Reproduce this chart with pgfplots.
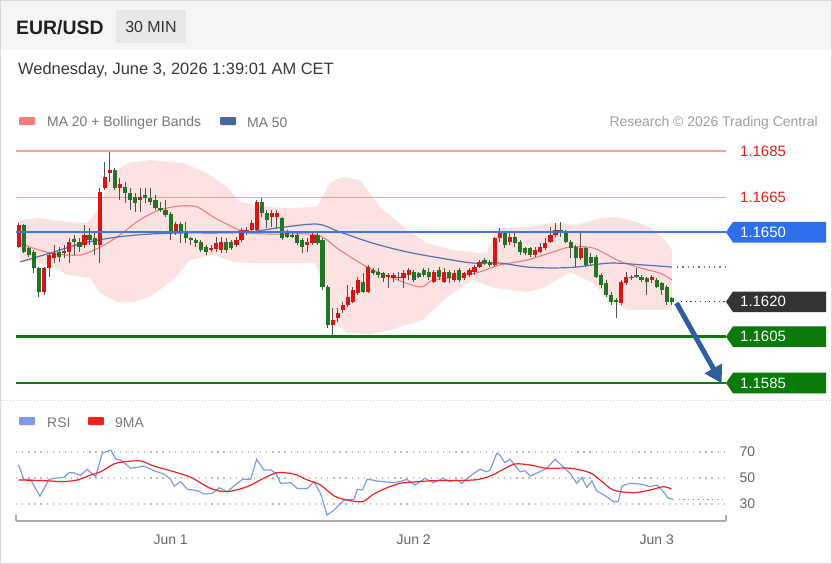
\documentclass[border=0pt]{standalone}
\usepackage{fontspec}
\setmainfont{Liberation Sans}
\usepackage{pgfplots}
\pgfplotsset{compat=1.18}
\usepackage{pgfplotstable}
\usetikzlibrary{arrows.meta}

\definecolor{upred}{HTML}{D81414}
\definecolor{dngreen}{HTML}{217526}
\definecolor{wickc}{HTML}{505050}
\definecolor{bbpink}{HTML}{FDE2E2}
\definecolor{ma20c}{HTML}{F27C7C}
\definecolor{ma50c}{HTML}{5272B0}
\definecolor{lvlred}{HTML}{F4A0A0}
\definecolor{txtred}{HTML}{EE1C1C}
\definecolor{lvlblue}{HTML}{3B76E8}
\definecolor{boxblue}{HTML}{2F6FEE}
\definecolor{boxdark}{HTML}{333333}
\definecolor{lvlgreen}{HTML}{0A7A0A}
\definecolor{arrowblue}{HTML}{2F5E9E}
\definecolor{rsiblue}{HTML}{7C9DE6}
\definecolor{marsi}{HTML}{EE2222}
\definecolor{gridgray}{HTML}{BBBBBB}
\definecolor{axisgray}{HTML}{AAAAAA}
\definecolor{labgray}{HTML}{666666}
\definecolor{leggray}{HTML}{777777}

\pgfplotstableread{
k O H L C
0 1.16438 1.16538 1.16431 1.16531
5 1.16244 1.16351 1.16229 1.16344
6 1.16344 1.16409 1.16308 1.16402
7 1.16388 1.16445 1.16366 1.16409
9 1.16409 1.16445 1.16388 1.16419
10 1.16416 1.16474 1.16366 1.16459
13 1.16445 1.16531 1.16431 1.16488
16 1.16445 1.16689 1.16366 1.16675
17 1.16689 1.16804 1.16682 1.16739
18 1.16754 1.16847 1.16718 1.16768
20 1.16692 1.16732 1.16639 1.16707
24 1.16639 1.16689 1.16588 1.16653
31 1.16502 1.16545 1.16488 1.16535
38 1.16423 1.16445 1.16416 1.16431
39 1.16426 1.16481 1.16416 1.16452
40 1.16423 1.16481 1.16409 1.16459
43 1.16445 1.16481 1.16438 1.16466
44 1.16466 1.16517 1.16459 1.16510
45 1.16502 1.16524 1.16488 1.16510
46 1.16510 1.16553 1.16495 1.16538
47 1.16510 1.16639 1.16495 1.16632
50 1.16567 1.16596 1.16524 1.16582
51 1.16567 1.16596 1.16517 1.16582
57 1.16445 1.16474 1.16416 1.16459
58 1.16452 1.16495 1.16445 1.16488
62 1.16100 1.16172 1.16057 1.16122
63 1.16129 1.16172 1.16114 1.16150
64 1.16165 1.16200 1.16150 1.16186
65 1.16186 1.16272 1.16179 1.16222
66 1.16200 1.16265 1.16194 1.16251
67 1.16237 1.16308 1.16229 1.16294
69 1.16244 1.16359 1.16237 1.16351
73 1.16308 1.16323 1.16258 1.16316
74 1.16301 1.16323 1.16287 1.16316
75 1.16301 1.16330 1.16294 1.16308
76 1.16301 1.16337 1.16258 1.16323
77 1.16316 1.16344 1.16294 1.16337
82 1.16287 1.16337 1.16280 1.16330
84 1.16287 1.16344 1.16280 1.16330
86 1.16294 1.16337 1.16287 1.16323
88 1.16301 1.16330 1.16294 1.16323
89 1.16316 1.16344 1.16308 1.16337
90 1.16330 1.16359 1.16316 1.16351
91 1.16351 1.16380 1.16344 1.16373
94 1.16359 1.16481 1.16351 1.16474
95 1.16474 1.16517 1.16459 1.16495
97 1.16459 1.16495 1.16445 1.16481
102 1.16402 1.16438 1.16394 1.16423
103 1.16416 1.16452 1.16409 1.16438
104 1.16431 1.16474 1.16423 1.16452
105 1.16459 1.16524 1.16452 1.16488
106 1.16488 1.16538 1.16481 1.16510
111 1.16388 1.16495 1.16380 1.16431
119 1.16194 1.16294 1.16186 1.16287
120 1.16280 1.16330 1.16272 1.16308
121 1.16301 1.16316 1.16294 1.16308
125 1.16294 1.16316 1.16280 1.16308
}\upT

\pgfplotstableread{
k O H L C
1 1.16531 1.16534 1.16409 1.16416
2 1.16431 1.16438 1.16394 1.16402
3 1.16416 1.16423 1.16323 1.16344
4 1.16344 1.16351 1.16222 1.16244
8 1.16416 1.16438 1.16373 1.16394
11 1.16471 1.16488 1.16402 1.16456
12 1.16459 1.16474 1.16416 1.16438
14 1.16488 1.16517 1.16445 1.16466
15 1.16474 1.16502 1.16402 1.16445
19 1.16768 1.16775 1.16682 1.16689
21 1.16696 1.16718 1.16625 1.16668
22 1.16668 1.16689 1.16596 1.16639
23 1.16653 1.16668 1.16588 1.16625
25 1.16660 1.16689 1.16625 1.16646
26 1.16646 1.16689 1.16617 1.16629
27 1.16639 1.16660 1.16596 1.16603
28 1.16603 1.16632 1.16588 1.16596
29 1.16596 1.16639 1.16567 1.16574
30 1.16577 1.16588 1.16466 1.16495
32 1.16535 1.16545 1.16452 1.16502
33 1.16502 1.16545 1.16452 1.16474
34 1.16474 1.16481 1.16445 1.16466
35 1.16466 1.16474 1.16438 1.16452
36 1.16459 1.16466 1.16416 1.16423
37 1.16438 1.16445 1.16402 1.16416
41 1.16459 1.16474 1.16409 1.16423
42 1.16459 1.16466 1.16423 1.16431
48 1.16632 1.16646 1.16567 1.16582
49 1.16582 1.16596 1.16517 1.16553
52 1.16560 1.16567 1.16466 1.16474
53 1.16495 1.16510 1.16474 1.16481
54 1.16488 1.16502 1.16474 1.16481
55 1.16488 1.16495 1.16445 1.16452
56 1.16466 1.16474 1.16409 1.16438
59 1.16488 1.16495 1.16445 1.16452
60 1.16466 1.16474 1.16251 1.16265
61 1.16265 1.16272 1.16086 1.16100
68 1.16287 1.16323 1.16237 1.16244
70 1.16337 1.16344 1.16316 1.16323
71 1.16330 1.16344 1.16301 1.16316
72 1.16323 1.16330 1.16287 1.16301
78 1.16330 1.16337 1.16287 1.16294
79 1.16323 1.16330 1.16301 1.16308
80 1.16337 1.16344 1.16308 1.16316
81 1.16330 1.16344 1.16294 1.16308
83 1.16337 1.16351 1.16294 1.16308
85 1.16330 1.16337 1.16280 1.16301
87 1.16337 1.16344 1.16287 1.16294
92 1.16380 1.16388 1.16359 1.16366
93 1.16373 1.16380 1.16351 1.16359
96 1.16495 1.16502 1.16431 1.16445
98 1.16481 1.16495 1.16438 1.16452
99 1.16459 1.16466 1.16402 1.16416
100 1.16431 1.16438 1.16402 1.16409
101 1.16431 1.16438 1.16394 1.16402
107 1.16510 1.16545 1.16481 1.16495
108 1.16495 1.16510 1.16452 1.16459
109 1.16459 1.16466 1.16388 1.16431
110 1.16438 1.16445 1.16351 1.16388
112 1.16431 1.16438 1.16351 1.16359
113 1.16394 1.16409 1.16359 1.16366
114 1.16394 1.16402 1.16301 1.16308
115 1.16316 1.16323 1.16258 1.16272
116 1.16280 1.16294 1.16222 1.16229
117 1.16229 1.16244 1.16186 1.16200
118 1.16208 1.16215 1.16129 1.16198
122 1.16316 1.16344 1.16301 1.16308
123 1.16308 1.16316 1.16287 1.16294
124 1.16301 1.16308 1.16229 1.16287
126 1.16294 1.16301 1.16258 1.16265
127 1.16280 1.16287 1.16229 1.16251
128 1.16265 1.16272 1.16186 1.16200
129 1.16215 1.16222 1.16186 1.16200
}\dnT

\pgfplotstableread{
k v
0 1.16453
6.2 1.16410
12.1 1.16402
16.1 1.16436
19.4 1.16479
23.9 1.16553
27.9 1.16596
31.9 1.16613
35.2 1.16609
38.4 1.16566
42.3 1.16522
45.1 1.16497
50.2 1.16492
58.9 1.16488
63.4 1.16423
68.8 1.16350
73.3 1.16307
79.2 1.16264
81.8 1.16294
86.6 1.16307
91.1 1.16329
95.0 1.16359
100.4 1.16380
105.5 1.16415
108.9 1.16436
113.4 1.16432
118.2 1.16380
122.1 1.16350
126.6 1.16324
129 1.16294
}\maT

\pgfplotstableread{
k v
0.3 1.16372
6.2 1.16410
12.7 1.16453
19.4 1.16479
25.9 1.16492
32.4 1.16497
39.2 1.16497
45.7 1.16501
51.0 1.16518
58.9 1.16535
63.4 1.16501
69.9 1.16453
76.7 1.16415
83.2 1.16389
89.7 1.16367
95.0 1.16367
100.4 1.16350
105.5 1.16346
110.2 1.16350
116.8 1.16367
123.3 1.16359
129 1.16350
}\mbT

% Bollinger band outline: upper band left to right, then lower band right to left
\pgfplotstableread{
k v
0.3 1.16553
4.2 1.16561
9.5 1.16544
13.5 1.16540
16.1 1.16609
18.0 1.16738
21.4 1.16798
26.0 1.16811
32.4 1.16798
37.2 1.16755
41.1 1.16695
43.7 1.16630
49.0 1.16609
53.6 1.16604
58.9 1.16609
61.5 1.16712
64.0 1.16738
67.4 1.16725
71.3 1.16609
76.7 1.16510
80.6 1.16453
85.8 1.16423
91.1 1.16410
92.5 1.16415
94.5 1.16518
100.4 1.16522
105.5 1.16540
110.2 1.16531
114.8 1.16561
118.2 1.16566
122.7 1.16540
125.3 1.16510
127.6 1.16466
129 1.16423
129 1.16165
126.6 1.16165
120.1 1.16165
116.8 1.16208
113.4 1.16281
108.9 1.16329
103.5 1.16260
100.4 1.16242
93.7 1.16260
89.7 1.16294
84.6 1.16221
79.8 1.16122
73.3 1.16079
69.4 1.16061
64.8 1.16066
62.1 1.16122
60.1 1.16281
58.5 1.16367
51.0 1.16367
46.3 1.16367
42.3 1.16372
38.4 1.16402
33.8 1.16380
30.5 1.16294
25.9 1.16221
22.6 1.16199
19.4 1.16199
16.1 1.16238
14.1 1.16303
9.5 1.16316
6.2 1.16359
0.3 1.16380
}\bbT

\pgfplotstableread{
k v
0 60
1.0 49
2.4 48.5
4.2 36
6.0 49
7.6 50
8.9 50.5
9.9 54
10.9 54
12.2 52
13.5 56.7
15.2 51
16.5 69
18.2 71.5
19.2 64.4
20.1 64
22.1 57.5
23.4 58.2
24.7 59.2
26.7 55.6
28.7 53
30.0 49
30.7 43.8
32.0 47.2
33.3 41.3
35.3 40.3
36.6 37.7
38.2 38.2
39.6 42.5
41.2 39.5
42.5 43.8
44.2 49
45.8 49
47.0 64.4
48.4 56.2
49.8 56.2
50.8 53.6
51.7 45.9
53.7 46.4
55.0 42
57.0 42
58.3 47.2
59.6 38.2
60.9 21.5
62.3 25.4
64.2 33
66.2 33.6
66.9 41.3
67.9 40.8
68.8 49
69.8 48.5
70.7 47.7
73.9 46.4
75.3 47.2
76.6 49
78.3 44.6
80.2 49.8
81.9 46.4
83.8 49.8
85.2 47.2
86.5 48.5
87.5 45.9
89.1 51.5
91.1 56.7
92.4 54.8
93.1 56.2
94.4 69
95.0 67.7
96.0 61.8
97.0 64.4
99.0 54.8
100.0 55.6
101.0 51.5
102.9 54.8
104.3 57.5
105.9 64.4
107.5 58.7
108.9 53.6
110.2 45.9
111.2 50.5
112.2 42.8
113.2 47.9
114.1 40.3
116.1 35.6
117.4 31.8
118.4 31.8
119.1 43.8
120.7 45.9
122.7 45.4
124.7 43.3
126.0 44.6
127.0 40.8
128.3 34.4
129.3 33.6
}\rsiT

\pgfplotstableread{
k v
0 48.5
5.6 47.9
8.6 47.2
11.6 48.5
14.2 52.3
16.2 54.8
18.8 60.8
20.8 62.5
24.1 63.1
26.7 59.2
30.7 54.8
34.0 50.5
37.9 42
41.2 39.5
45.1 43.3
48.4 49.8
51.1 54.1
54.4 53
57.0 48.5
59.6 44.6
62.3 36.2
64.9 33
67.9 31.8
69.8 36.9
72.0 41.3
75.3 45.9
79.1 47.2
81.8 47.9
89.8 48.5
93.1 51.5
95.7 56.7
98.0 60.8
101.0 60
104.3 57.5
108.9 57.5
112.8 54.1
114.8 48.5
117.4 40.8
121.4 38.7
124.7 40.8
127.3 43.3
128.9 41.5
}\masT

% price box; #2 is the level in pips (price x 10000)
\newcommand{\pricebox}[3]{%
  \fill[#1] (axis cs:139.67,#2) -- ++(7bp,10.3bp) -- ++(93bp,0bp) -- ++(0bp,-20.6bp) -- ++(-93bp,0bp) -- cycle;
  \node[anchor=west, inner sep=0pt, text=white, font=\fontsize{15}{17}\selectfont, xshift=14bp] at (axis cs:139.67,#2) {#3};
}

% draw the candles of one table: #1 table, #2 last row index, #3 body colour
\newcommand{\candles}[3]{%
  \pgfplotsinvokeforeach{0,...,#2}{%
    \pgfplotstablegetelem{##1}{k}\of#1\edef\ck{\pgfplotsretval}%
    \pgfplotstablegetelem{##1}{O}\of#1\edef\co{\pgfplotsretval}%
    \pgfplotstablegetelem{##1}{H}\of#1\edef\ch{\pgfplotsretval}%
    \pgfplotstablegetelem{##1}{L}\of#1\edef\cl{\pgfplotsretval}%
    \pgfplotstablegetelem{##1}{C}\of#1\edef\cc{\pgfplotsretval}%
    \edef\tmp{\noexpand\addplot[wickc, line width=1bp, forget plot] coordinates {(\ck,\cl) (\ck,\ch)};%
      \noexpand\addplot[#3, line width=4.2bp, forget plot] coordinates {(\ck,\co) (\ck,\cc)};}%
    \tmp
  }%
}

\begin{document}
\begin{tikzpicture}
\path[use as bounding box] (0,0) rectangle (832bp,-564bp);
\fill[white] (0,0) rectangle (832bp,-564bp);
\fill[black!4] (0.5bp,-0.5bp) rectangle (831.5bp,-50bp);
\draw[black!15, line width=1bp] (0.5bp,-0.5bp) rectangle (831.5bp,-563.5bp);
\draw[black!18, dash pattern=on 1bp off 2bp] (1bp,-400bp) -- (831bp,-400bp);

% header
\node[anchor=west, inner sep=0pt, font=\fontsize{19.5}{22}\selectfont\bfseries, text=black!87] at (16bp,-27.5bp) {EUR/USD};
\fill[black!9] (116bp,-10bp) rectangle (186bp,-43bp);
\node[inner sep=0pt, font=\fontsize{16}{18}\selectfont, text=black!80] at (151bp,-27.5bp) {30 MIN};
\node[anchor=west, inner sep=0pt, font=\fontsize{16.5}{19}\selectfont, text=black!78] at (18bp,-70bp) {Wednesday, June 3, 2026 1:39:01 AM CET};

% legend
\fill[ma20c, rounded corners=1bp] (19bp,-117bp) rectangle (35bp,-125bp);
\node[anchor=west, inner sep=0pt, font=\fontsize{14}{16}\selectfont, text=leggray] at (47bp,-122.5bp) {MA 20 + Bollinger Bands};
\fill[ma50c!90!black, rounded corners=1bp] (220bp,-117bp) rectangle (236bp,-125bp);
\node[anchor=west, inner sep=0pt, font=\fontsize{14}{16}\selectfont, text=leggray] at (247bp,-122.5bp) {MA 50};
\node[anchor=east, inner sep=0pt, font=\fontsize{14}{16}\selectfont, text=black!38] at (818bp,-122.5bp) {Research © 2026 Trading Central};

\fill[rsiblue, rounded corners=1bp] (19bp,-417bp) rectangle (35bp,-425bp);
\node[anchor=west, inner sep=0pt, font=\fontsize{14}{16}\selectfont, text=leggray] at (47bp,-422.5bp) {RSI};
\fill[marsi, rounded corners=1bp] (88bp,-417bp) rectangle (104bp,-425bp);
\node[anchor=west, inner sep=0pt, font=\fontsize{14}{16}\selectfont, text=leggray] at (115bp,-422.5bp) {9MA};

% price panel (prices are plotted in pips: price x 10000)
\begin{axis}[
  at={(16bp,-135bp)}, anchor=north west,
  width=710bp, height=263bp, scale only axis,
  xmin=-0.53, xmax=139.67, ymin=11578.54, ymax=11691.9,
  y filter/.expression={y*10000},
  axis line style={draw=none}, xtick=\empty, ytick=\empty,
  clip=false,
]
\addplot[fill=bbpink, draw=none, forget plot] table[x=k, y=v]{\bbT} -- cycle;

\addplot[lvlred, line width=1.5bp, forget plot] coordinates {(-0.53,1.1685) (139.67,1.1685)};
\addplot[lvlred, line width=1.5bp, forget plot] coordinates {(-0.53,1.1665) (139.67,1.1665)};

\addplot[ma20c, line width=1.1bp, smooth, tension=0.5, forget plot] table[x=k, y=v]{\maT};
\addplot[ma50c, line width=1.2bp, smooth, tension=0.5, forget plot] table[x=k, y=v]{\mbT};
\addplot[ma50c, line width=1.3bp, dash pattern=on 1.3bp off 4bp, forget plot] coordinates {(130,1.16350) (139.67,1.16350)};

\candles{\upT}{56}{upred}
\candles{\dnT}{72}{dngreen}

\addplot[lvlblue, line width=2bp, forget plot] coordinates {(-0.53,1.1650) (139.67,1.1650)};
\addplot[lvlgreen, line width=2.5bp, forget plot] coordinates {(-0.53,1.1605) (139.67,1.1605)};
\addplot[lvlgreen, line width=2.5bp, forget plot] coordinates {(-0.53,1.1585) (139.67,1.1585)};
\addplot[boxdark, line width=1.2bp, dash pattern=on 1.2bp off 3.5bp, forget plot] coordinates {(130.8,1.1620) (139.67,1.1620)};

\draw[arrowblue, line width=5bp, -{Triangle[length=17bp, width=19bp]}] (axis cs:129.9,11619.5) -- (axis cs:138.8,11584.9);

\node[anchor=west, inner sep=0pt, text=txtred, font=\fontsize{15}{17}\selectfont, xshift=14bp] at (axis cs:139.67,11685) {1.1685};
\node[anchor=west, inner sep=0pt, text=txtred, font=\fontsize{15}{17}\selectfont, xshift=14bp] at (axis cs:139.67,11665) {1.1665};
\pricebox{boxblue}{11650}{1.1650}
\pricebox{boxdark}{11620}{1.1620}
\pricebox{lvlgreen}{11605}{1.1605}
\pricebox{lvlgreen}{11585}{1.1585}
\end{axis}

% RSI panel
\begin{axis}[
  at={(16bp,-430bp)}, anchor=north west,
  width=710bp, height=91bp, scale only axis,
  xmin=-0.53, xmax=139.67, ymin=16.92, ymax=86.92,
  axis x line*=bottom, axis y line*=right,
  x axis line style={draw=axisgray, line width=1.5bp},
  y axis line style={draw=none},
  xtick={30,78,126}, xticklabels={Jun 1,Jun 2,Jun 3},
  ytick={30,50,70}, yticklabels={30,50,70},
  ymajorgrids, grid style={gridgray, line width=1.3bp, dash pattern=on 1.3bp off 4.8bp},
  major tick length=0pt,
  tick label style={font=\fontsize{14}{16}\selectfont, text=labgray},
  xticklabel style={yshift=-10bp},
  yticklabel style={xshift=10bp},
  clip=false,
]
\addplot[rsiblue, line width=1.2bp, forget plot] table[x=k, y=v]{\rsiT};
\addplot[rsiblue, line width=1.3bp, dash pattern=on 1.3bp off 3.5bp, forget plot] coordinates {(130.3,33.6) (139.67,33.6)};
\addplot[marsi, line width=1.2bp, smooth, tension=0.5, forget plot] table[x=k, y=v]{\masT};
\draw[axisgray, line width=1.5bp] (rel axis cs:0,0) -- ++(0bp,6bp);
\draw[axisgray, line width=1.5bp] (rel axis cs:1,0) -- ++(0bp,6bp);
\end{axis}
\end{tikzpicture}
\end{document}
